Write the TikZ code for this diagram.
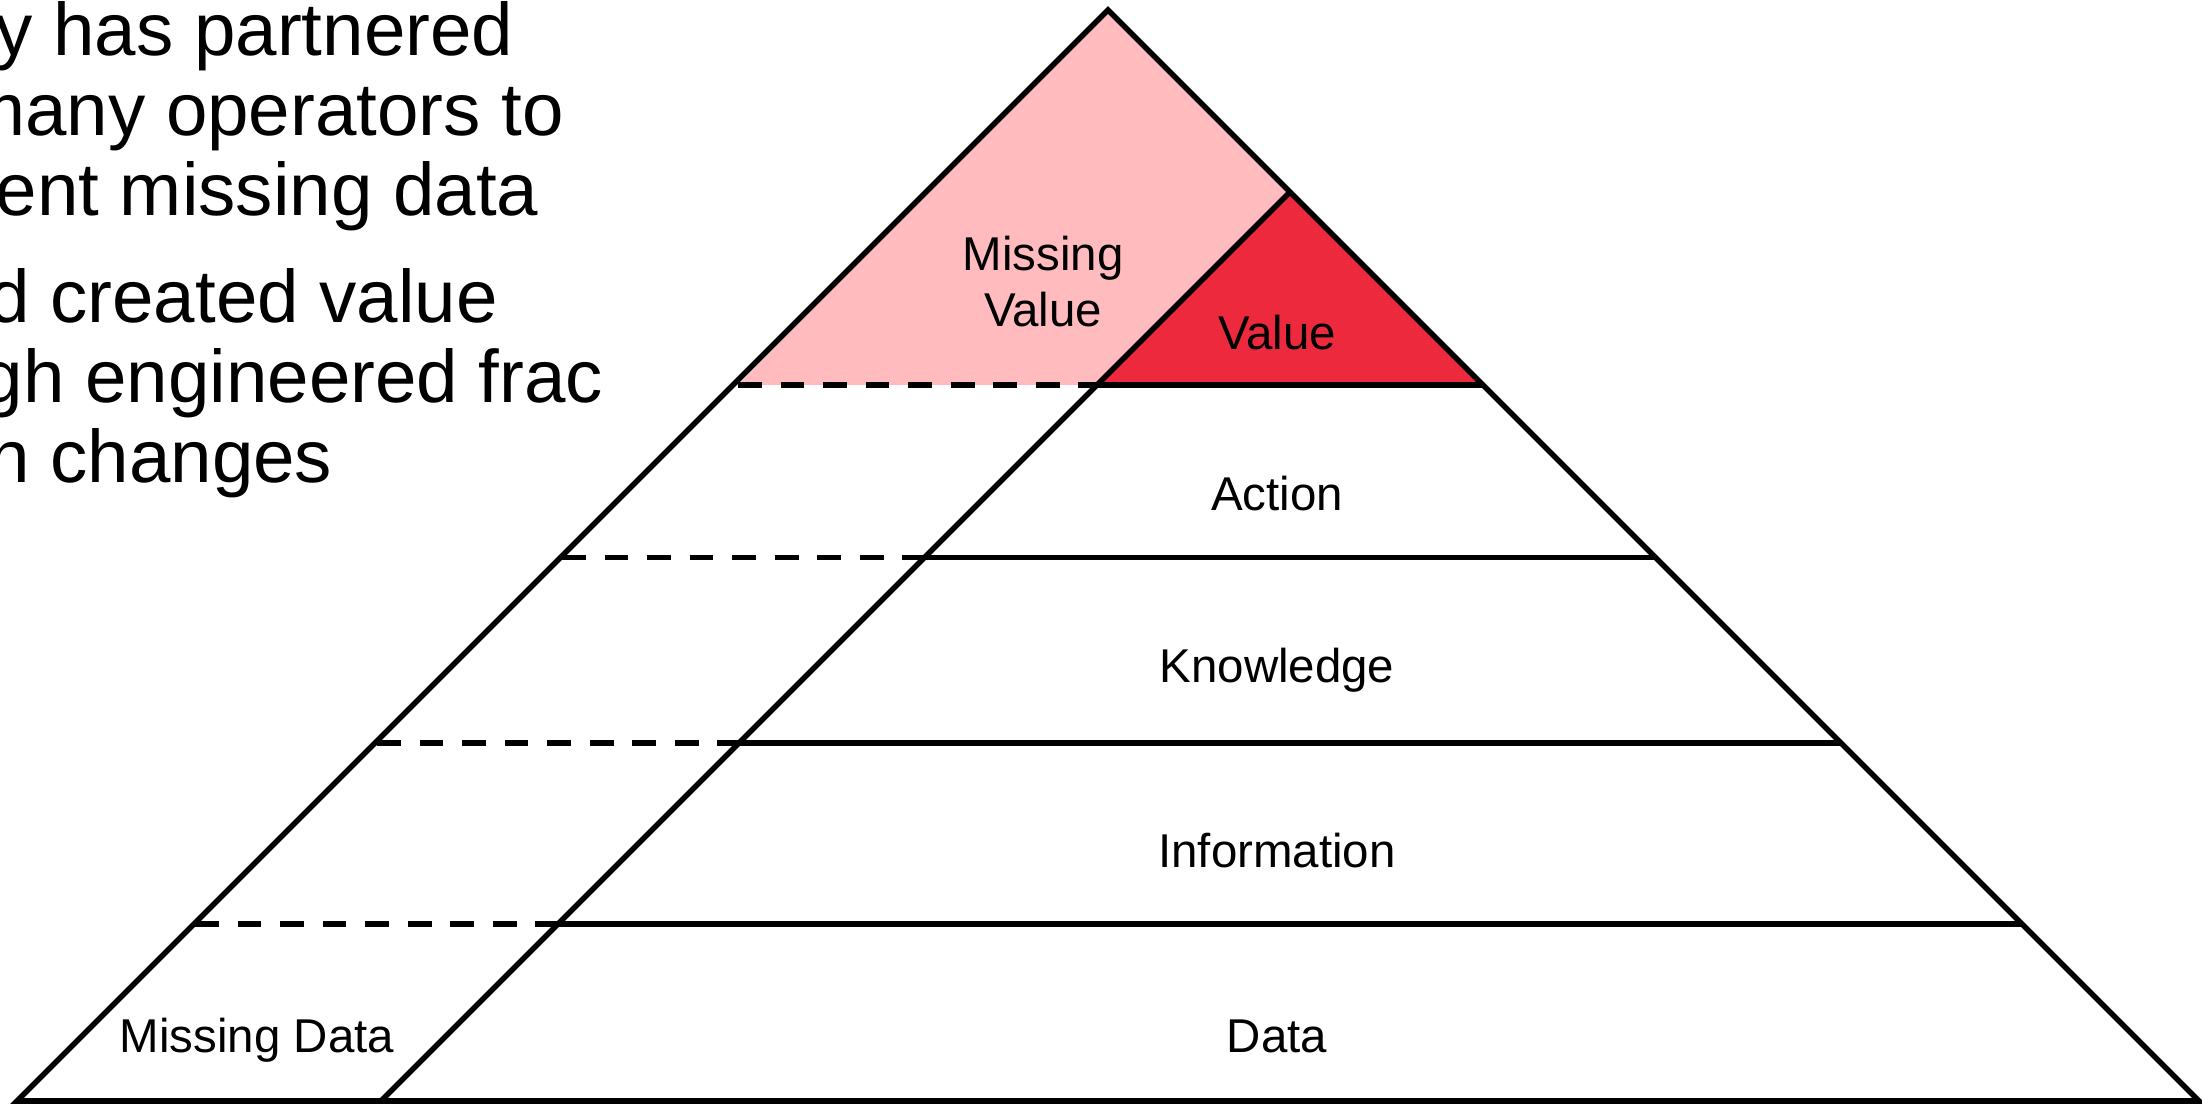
\documentclass[tikz,border=0pt]{standalone}
\usepackage{fontspec}
\setmainfont{Liberation Sans}
\definecolor{mvpink}{RGB}{255,187,189}
\definecolor{vred}{RGB}{237,41,61}
\begin{document}
\begin{tikzpicture}[x=0.1mm,y=-0.1mm,
  edge/.style={line width=1.6pt, line join=miter},
  dashedge/.style={line width=1.6pt, dash pattern=on 6.8pt off 5.3pt},
  lbl/.style={font=\fontsize{13.5}{15.9}\selectfont, inner sep=0pt, anchor=base},
  big/.style={font=\fontsize{21.2}{22.7}\selectfont, inner sep=0pt, anchor=base east}]
\useasboundingbox (0,0) rectangle (2202,1105);
\clip (0,0) rectangle (2202,1105);
% main corners
\coordinate (A) at (1108,10);
\coordinate (L) at (17,1101);
\coordinate (R) at (2199,1101);
\coordinate (B) at (381,1101);
\coordinate (T) at (1290,192);
% level 1 (y=385)
\coordinate (l1) at (738,385);
\coordinate (i1) at (1097,385);
\coordinate (r1) at (1483,385);
% level 2 (y=557.5)
\coordinate (l2) at (562,557.5);
\coordinate (i2) at (924.5,557.5);
\coordinate (r2) at (1655.5,557.5);
% level 3 (y=743)
\coordinate (l3) at (377,743);
\coordinate (i3) at (739,743);
\coordinate (r3) at (1841,743);
% level 4 (y=924)
\coordinate (l4) at (195,924);
\coordinate (i4) at (558,924);
\coordinate (r4) at (2022,924);
% fills
\fill[mvpink] (l1) -- (A) -- (T) -- (i1) -- cycle;
\fill[vred] (i1) -- (T) -- (r1) -- cycle;
% outlines
\draw[edge] (L) -- (A) -- (R) -- cycle;
\draw[edge] (B) -- (T);
\draw[edge] (i1) -- (r1);
\draw[edge] (i2) -- (r2);
\draw[edge] (i3) -- (r3);
\draw[edge] (i4) -- (r4);
\draw[dashedge] (l1) -- (i1);
\draw[dashedge] (l2) -- (i2);
\draw[dashedge] (l3) -- (i3);
\draw[dashedge] (l4) -- (i4);
% labels
\node[lbl] (mvA) at (1043,271) {Missing};
\node[lbl] (mvB) at (1043,327) {Value};
\node[lbl] (val) at (1277,350) {Value};
\node[lbl] (act) at (1277,511) {Action};
\node[lbl] (know) at (1277,683) {Knowledge};
\node[lbl] (info) at (1277,868) {Information};
\node[lbl] (data) at (1277,1052) {Data};
\node[lbl] (mdata) at (257,1052) {Missing Data};
% clipped paragraph text at upper left
\node[big] (t1) at (514,56) {y has partnered};
\node[big] (t2) at (564.5,136) {many operators to};
\node[big] (t3) at (539,216) {ent missing data};
\node[big] (t4) at (498.5,323) {d created value};
\node[big] (t5) at (604,403) {gh engineered frac};
\node[big] (t6) at (333,483) {n changes};
\end{tikzpicture}
\end{document}
